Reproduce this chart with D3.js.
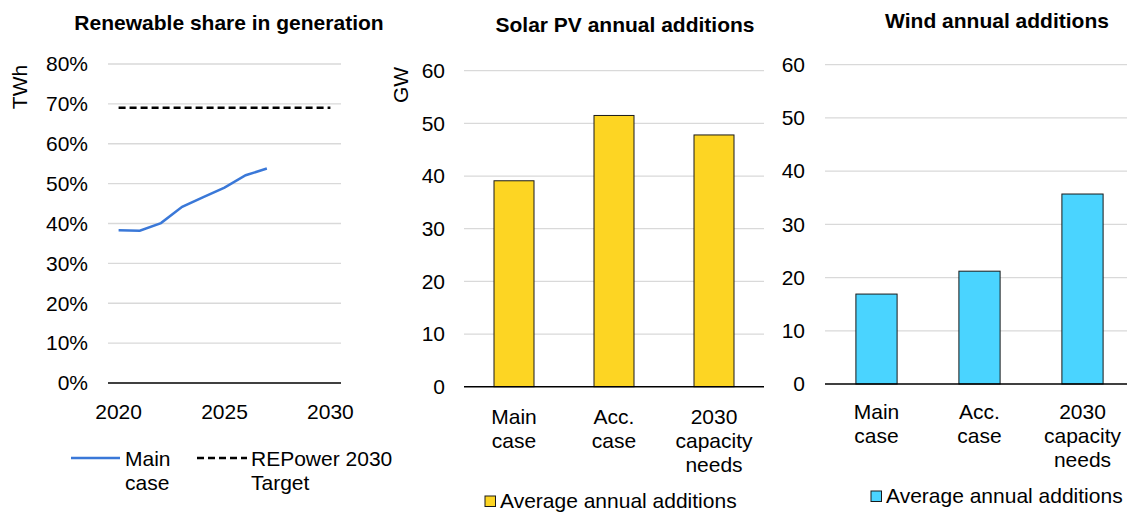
<!DOCTYPE html>
<html><head><meta charset="utf-8">
<script src="https://cdn.jsdelivr.net/npm/d3@7"></script>
<style>
body{margin:0;background:#fff;}
svg{font-family:"Liberation Sans",Arial,sans-serif;}
</style></head><body>
<svg id="c" width="1127" height="512"></svg>
<script>
// Data
const years = [2020,2021,2022,2023,2024,2025,2026,2027,2028,2029,2030];
const mainCaseShare = [38.3,38.2,40.1,44.2,46.6,49.0,52.1,53.8];
const targetShare = 69;
const shareTicks = [0,10,20,30,40,50,60,70,80];
const yearTickLabels = [2020,2025,2030];
const barCategories = [["Main","case"],["Acc.","case"],["2030","capacity","needs"]];
const solarValues = [39.1,51.5,47.8];
const windValues = [16.9,21.2,35.7];
const gwTicks = [0,10,20,30,40,50,60];

const svg = d3.select("#c");
const gridColor = "#d9d9d9";
const fs = 21;

// Panel 1: line chart
(function(){
  const x = d3.scaleBand().domain(years).range([108,341]);
  const y = d3.scaleLinear().domain([0,80]).range([383,64]);
  const g = svg.append("g");
  g.selectAll("line.grid").data(shareTicks.filter(d=>d>0)).join("line")
    .attr("x1",108).attr("x2",341).attr("y1",d=>y(d)).attr("y2",d=>y(d))
    .attr("stroke",gridColor).attr("stroke-width",1.3);
  g.append("line").attr("x1",108).attr("x2",341).attr("y1",y(0)).attr("y2",y(0))
    .attr("stroke","#000").attr("stroke-width",1.5);
  g.selectAll("text.yt").data(shareTicks).join("text")
    .attr("x",88).attr("y",d=>y(d)).attr("dy","0.35em").attr("text-anchor","end")
    .attr("font-size",fs).text(d=>d+"%");
  g.selectAll("text.xt").data(yearTickLabels).join("text")
    .attr("x",d=>x(d)+x.bandwidth()/2).attr("y",419).attr("text-anchor","middle")
    .attr("font-size",fs).text(d=>d);
  const cx = d=>x(d)+x.bandwidth()/2;
  g.append("line").attr("x1",cx(2020)).attr("x2",cx(2030))
    .attr("y1",y(targetShare)).attr("y2",y(targetShare))
    .attr("stroke","#000").attr("stroke-width",2.5).attr("stroke-dasharray","7,4");
  const line = d3.line().x((d,i)=>cx(years[i])).y(d=>y(d));
  g.append("path").datum(mainCaseShare).attr("d",line).attr("fill","none")
    .attr("stroke","#3a78d8").attr("stroke-width",2.5);
  g.append("text").attr("x",229).attr("y",30).attr("text-anchor","middle")
    .attr("font-size",fs).attr("font-weight","bold").text("Renewable share in generation");
  g.append("text").attr("transform","translate(27,87) rotate(-90)").attr("text-anchor","middle")
    .attr("font-size",fs).text("TWh");
  // legend
  g.append("line").attr("x1",71).attr("x2",120).attr("y1",458).attr("y2",458)
    .attr("stroke","#3a78d8").attr("stroke-width",2.5);
  g.append("text").attr("x",125).attr("y",466).attr("font-size",fs).text("Main");
  g.append("text").attr("x",125).attr("y",490).attr("font-size",fs).text("case");
  g.append("line").attr("x1",197).attr("x2",247).attr("y1",458).attr("y2",458)
    .attr("stroke","#000").attr("stroke-width",2.5).attr("stroke-dasharray","7,4");
  g.append("text").attr("x",251).attr("y",466).attr("font-size",fs).text("REPower 2030");
  g.append("text").attr("x",251).attr("y",490).attr("font-size",fs).text("Target");
})();

// Bar panels
function barPanel(opts){
  const {x0,x1,yTop,yBot,values,color,title,titleX,titleY,unit,unitX,unitY,tickX,labY,legSq,legY} = opts;
  const x = d3.scaleBand().domain(d3.range(values.length)).range([x0,x1]).paddingInner(0.6).paddingOuter(0.3);
  const y = d3.scaleLinear().domain([0,60]).range([yBot,yTop]);
  const g = svg.append("g");
  const gx1 = Math.min(x1,1127);
  g.selectAll("line.grid").data(gwTicks.filter(d=>d>0)).join("line")
    .attr("x1",x0).attr("x2",gx1).attr("y1",d=>y(d)).attr("y2",d=>y(d))
    .attr("stroke",gridColor).attr("stroke-width",1.3);
  g.selectAll("rect").data(values).join("rect")
    .attr("x",(d,i)=>x(i)).attr("width",x.bandwidth())
    .attr("y",d=>y(d)).attr("height",d=>y(0)-y(d))
    .attr("fill",color).attr("stroke","#1a1a1a").attr("stroke-width",1);
  g.append("line").attr("x1",x0).attr("x2",gx1).attr("y1",y(0)).attr("y2",y(0))
    .attr("stroke","#000").attr("stroke-width",1.5);
  g.selectAll("text.yt").data(gwTicks).join("text")
    .attr("x",tickX).attr("y",d=>y(d)).attr("dy","0.35em").attr("text-anchor","end")
    .attr("font-size",fs).text(d=>d);
  barCategories.forEach((lines,i)=>{
    lines.forEach((t,j)=>{
      g.append("text").attr("x",x(i)+x.bandwidth()/2).attr("y",labY+j*24)
        .attr("text-anchor","middle").attr("font-size",fs).text(t);
    });
  });
  g.append("text").attr("x",titleX).attr("y",titleY).attr("text-anchor","middle")
    .attr("font-size",fs).attr("font-weight","bold").text(title);
  if(unit) g.append("text").attr("transform",`translate(${unitX},${unitY}) rotate(-90)`)
    .attr("text-anchor","middle").attr("font-size",fs).text(unit);
  g.append("rect").attr("x",legSq).attr("y",legY-10).attr("width",10.5).attr("height",10.5)
    .attr("fill",color).attr("stroke","#1a1a1a").attr("stroke-width",1);
  g.append("text").attr("x",legSq+15).attr("y",legY+2).attr("font-size",fs).text("Average annual additions");
}

barPanel({x0:464,x1:764,yTop:70.7,yBot:386.7,values:solarValues,color:"#fdd523",
  title:"Solar PV annual additions",titleX:625,titleY:32,unit:"GW",unitX:408,unitY:85,
  tickX:445,labY:424,legSq:485,legY:506});
barPanel({x0:825,x1:1134,yTop:64.7,yBot:384,values:windValues,color:"#4ad4ff",
  title:"Wind annual additions",titleX:997,titleY:28,unit:null,
  tickX:805,labY:419,legSq:871,legY:501});
</script>
</body></html>
